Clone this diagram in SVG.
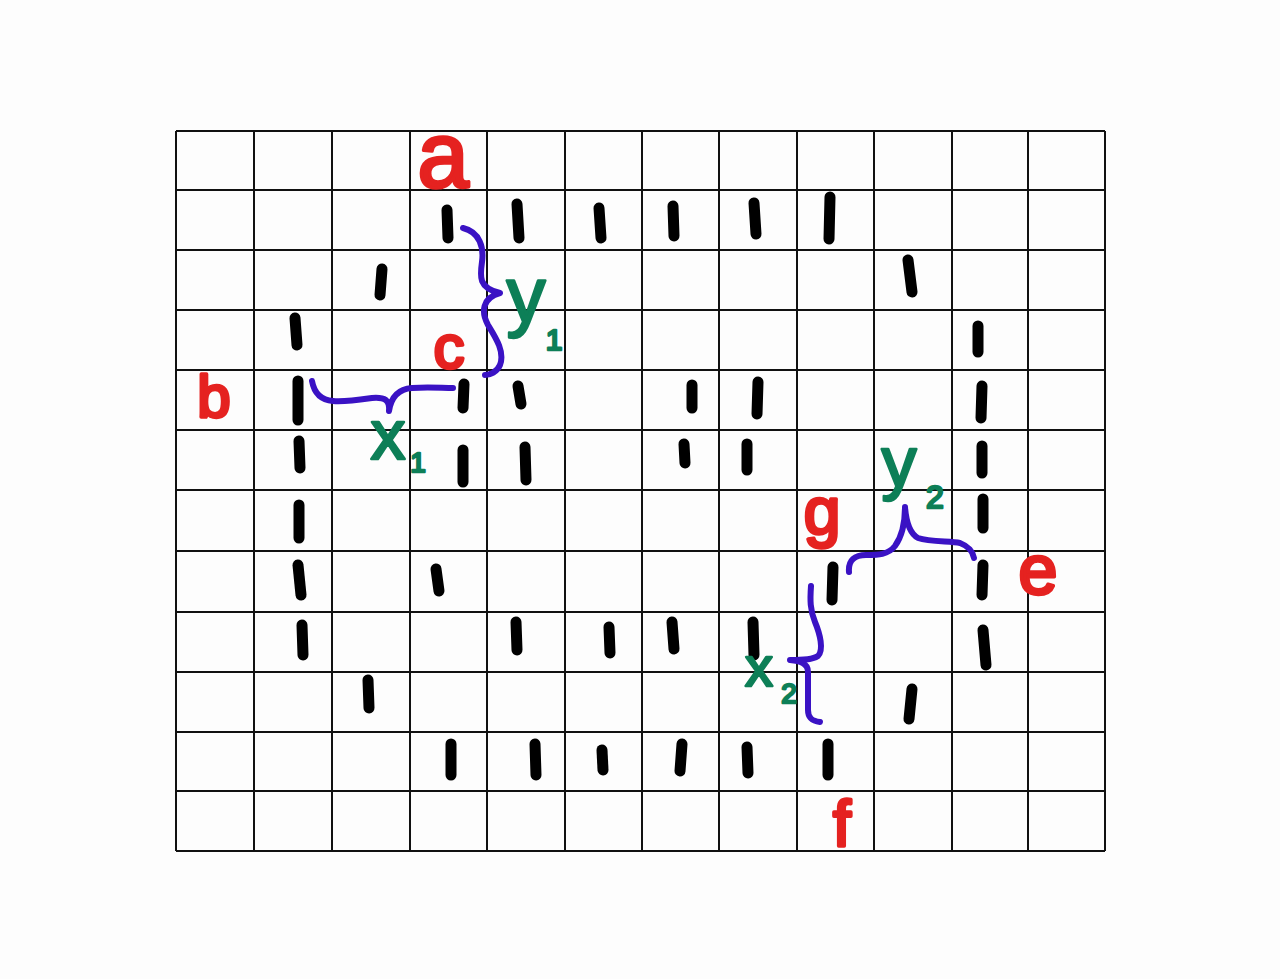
<svg xmlns="http://www.w3.org/2000/svg" width="1280" height="979" viewBox="0 0 1280 979">
<style>
.grid line{stroke:#111;stroke-width:2}
.dash{stroke:#000;stroke-width:11;stroke-linecap:round;fill:none}
.brace{stroke:#3a12c4;stroke-width:6;stroke-linecap:round;stroke-linejoin:round;fill:none}
.lbl{font-family:"Liberation Sans","DejaVu Sans",sans-serif;fill:#e52220;stroke:#e52220;stroke-width:3.5;stroke-linejoin:round;text-anchor:middle}
.var{font-family:"Liberation Sans","DejaVu Sans",sans-serif;fill:#0d7f57;stroke:#0d7f57;stroke-width:2.5;stroke-linejoin:round;text-anchor:middle}
</style>
<rect width="1280" height="979" fill="#fdfdfd"/>
<g id="grid" class="grid">
<line x1="176" y1="131" x2="1105" y2="131"/>
<line x1="176" y1="190" x2="1105" y2="190"/>
<line x1="176" y1="250" x2="1105" y2="250"/>
<line x1="176" y1="310" x2="1105" y2="310"/>
<line x1="176" y1="370" x2="1105" y2="370"/>
<line x1="176" y1="430" x2="1105" y2="430"/>
<line x1="176" y1="490" x2="1105" y2="490"/>
<line x1="176" y1="551" x2="1105" y2="551"/>
<line x1="176" y1="612" x2="1105" y2="612"/>
<line x1="176" y1="672" x2="1105" y2="672"/>
<line x1="176" y1="732" x2="1105" y2="732"/>
<line x1="176" y1="791" x2="1105" y2="791"/>
<line x1="176" y1="851" x2="1105" y2="851"/>
<line x1="176" y1="131" x2="176" y2="851"/>
<line x1="254" y1="131" x2="254" y2="851"/>
<line x1="332" y1="131" x2="332" y2="851"/>
<line x1="410" y1="131" x2="410" y2="851"/>
<line x1="487" y1="131" x2="487" y2="851"/>
<line x1="565" y1="131" x2="565" y2="851"/>
<line x1="642" y1="131" x2="642" y2="851"/>
<line x1="719" y1="131" x2="719" y2="851"/>
<line x1="797" y1="131" x2="797" y2="851"/>
<line x1="874" y1="131" x2="874" y2="851"/>
<line x1="952" y1="131" x2="952" y2="851"/>
<line x1="1028" y1="131" x2="1028" y2="851"/>
<line x1="1105" y1="131" x2="1105" y2="851"/>
</g>
<g id="dashes" class="dash">
<line x1="447" y1="210" x2="448" y2="238"/>
<line x1="517" y1="204" x2="519" y2="238"/>
<line x1="599" y1="208" x2="601" y2="238"/>
<line x1="673" y1="206" x2="674" y2="236"/>
<line x1="754" y1="203" x2="756" y2="234"/>
<line x1="830" y1="197" x2="829" y2="239"/>
<line x1="382" y1="269" x2="380" y2="295"/>
<line x1="908" y1="260" x2="912" y2="292"/>
<line x1="295" y1="318" x2="297" y2="345"/>
<line x1="978" y1="326" x2="978" y2="352"/>
<line x1="298" y1="381" x2="298" y2="420"/>
<line x1="464" y1="384" x2="463" y2="408"/>
<line x1="518" y1="386" x2="521" y2="404"/>
<line x1="692" y1="385" x2="692" y2="408"/>
<line x1="758" y1="382" x2="757" y2="414"/>
<line x1="982" y1="386" x2="981" y2="418"/>
<line x1="299" y1="441" x2="300" y2="468"/>
<line x1="463" y1="450" x2="463" y2="482"/>
<line x1="525" y1="447" x2="526" y2="480"/>
<line x1="684" y1="444" x2="685" y2="463"/>
<line x1="747" y1="444" x2="747" y2="470"/>
<line x1="982" y1="446" x2="982" y2="473"/>
<line x1="299" y1="505" x2="299" y2="538"/>
<line x1="983" y1="499" x2="983" y2="528"/>
<line x1="298" y1="565" x2="301" y2="595"/>
<line x1="436" y1="569" x2="439" y2="591"/>
<line x1="833" y1="567" x2="832" y2="600"/>
<line x1="983" y1="565" x2="982" y2="595"/>
<line x1="302" y1="625" x2="303" y2="655"/>
<line x1="516" y1="622" x2="517" y2="650"/>
<line x1="609" y1="627" x2="610" y2="653"/>
<line x1="672" y1="622" x2="674" y2="649"/>
<line x1="753" y1="622" x2="754" y2="655"/>
<line x1="983" y1="630" x2="986" y2="665"/>
<line x1="368" y1="680" x2="369" y2="708"/>
<line x1="912" y1="689" x2="909" y2="719"/>
<line x1="451" y1="744" x2="451" y2="775"/>
<line x1="535" y1="744" x2="536" y2="775"/>
<line x1="602" y1="750" x2="603" y2="770"/>
<line x1="682" y1="744" x2="680" y2="771"/>
<line x1="747" y1="747" x2="748" y2="773"/>
<line x1="828" y1="744" x2="828" y2="775"/>
</g>
<g id="braces" class="brace">
<path id="brace-y1" d="M463,228 C480,232 484,248 482,262 C480,276 478,288 500,293 C482,298 481,312 488,325 C496,338 505,352 500,365 C497,372 490,375 485,375"/>
<path id="brace-x1" d="M312,381 C314,392 320,400 333,401 C345,402 358,400 372,398 C385,397 390,400 389,411 C391,398 398,389 412,388 C428,387 442,388 453,388"/>
<path id="brace-y2" d="M849,572 C848,560 855,555 866,555 C878,555 888,555 895,546 C903,535 905,520 905,507 C906,520 909,533 918,538 C930,542 950,541 960,543 C968,546 973,552 974,558"/>
<path id="brace-x2" d="M811,586 C810,600 810,610 815,622 C820,634 824,650 818,656 C812,660 800,660 790,660 C800,661 808,663 808,672 C808,685 808,700 808,710 C808,718 812,721 820,722"/>
</g>
<g id="label-a"><text class="lbl" x="443" y="187" font-size="92">a</text></g>
<g id="label-b"><text class="lbl" x="214" y="417" font-size="60">b</text></g>
<g id="label-c"><text class="lbl" x="449" y="368" font-size="62">c</text></g>
<g id="label-e"><text class="lbl" x="1038" y="594" font-size="70">e</text></g>
<g id="label-f"><text class="lbl" x="842" y="846" font-size="64">f</text></g>
<g id="label-g"><text class="lbl" x="822" y="534" font-size="66">g</text></g>
<g id="label-y1"><text class="var" x="526" y="322" font-size="78">y</text><text class="var" x="554" y="350" font-size="30">1</text></g>
<g id="label-x1"><text class="var" x="388" y="459" font-size="70">x</text><text class="var" x="418" y="472" font-size="28">1</text></g>
<g id="label-y2"><text class="var" x="899" y="486" font-size="70">y</text><text class="var" x="935" y="508" font-size="32">2</text></g>
<g id="label-x2"><text class="var" x="759" y="686" font-size="56">x</text><text class="var" x="789" y="703" font-size="28">2</text></g>
</svg>
